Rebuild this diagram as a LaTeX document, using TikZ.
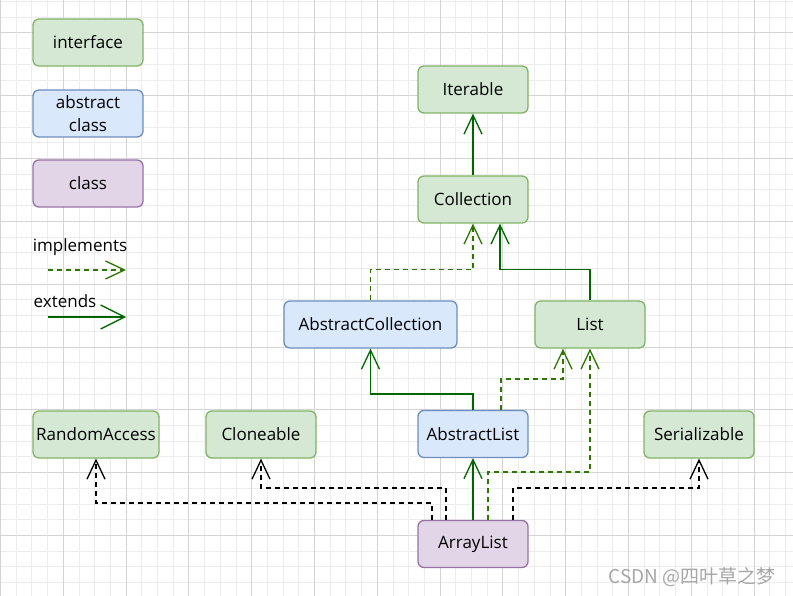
\documentclass[tikz,border=0pt]{standalone}
\usepackage{fontspec}
\setmainfont{Open Sans}
\newfontfamily\cjkfont{Noto Sans CJK SC}
\usetikzlibrary{arrows.meta}
\definecolor{gfill}{HTML}{D5E8D4}\definecolor{gline}{HTML}{82B366}
\definecolor{bfill}{HTML}{DAE8FC}\definecolor{bline}{HTML}{6C8EBF}
\definecolor{pfill}{HTML}{E1D5E7}\definecolor{pline}{HTML}{9673A6}
\definecolor{edgegreen}{HTML}{006600}
\definecolor{dashgreen}{HTML}{2D7600}
\definecolor{gridmajor}{HTML}{D4D4D4}
\definecolor{gridminor}{HTML}{EDEDED}
\tikzset{
  lbl/.style={font=\fontsize{17}{23}\selectfont},
  box/.style={draw, rounded corners=6pt, line width=1.3pt, minimum height=47pt, minimum width=110pt, inner sep=0pt, lbl, align=center},
  iface/.style={box, fill=gfill, draw=gline},
  abst/.style={box, fill=bfill, draw=bline},
  cls/.style={box, fill=pfill, draw=pline},
  opentip/.style={-{Straight Barb[length=19pt,width=18pt,line width=1.3pt]}},
  ext/.style={opentip, draw=edgegreen, line width=1.6pt},
  impl/.style={opentip, draw=dashgreen, line width=1.4pt, dash pattern=on 5pt off 4pt},
  implb/.style={opentip, draw=black, line width=1.3pt, dash pattern=on 5pt off 4pt},
}
\begin{document}
\begin{tikzpicture}[x=1pt,y=-1pt]
\useasboundingbox (0,0) rectangle (793,596);
\fill[white] (0,0) rectangle (793,596);
% grid
\foreach \i in {0,...,50} \draw[gridminor, line width=1pt] ({0.5+\i*15.7},0) -- ({0.5+\i*15.7},596);
\foreach \i in {-2,...,38} \draw[gridminor, line width=1pt] (0,{33+\i*15.7}) -- (793,{33+\i*15.7});
\foreach \i in {0,...,12} \draw[gridmajor, line width=1pt] ({0.5+\i*62.8},0) -- ({0.5+\i*62.8},596);
\foreach \i in {-1,...,9} \draw[gridmajor, line width=1pt] (0,{33+\i*62.8}) -- (793,{33+\i*62.8});

% legend
\node[iface] (lint) at (88,42.5) {interface};
\node[abst] (labs) at (88,113.5) {abstract\\class};
\node[cls] (lcls) at (88,183.5) {class};
\node[lbl] (limpl) at (80,247) {implements};
\coordinate (li1) at (48,270); \coordinate (li2) at (126,270);
\draw[impl] (li1) -- (li2);
\node[lbl] (lext) at (65,301) {extends};
\coordinate (le1) at (48,317); \coordinate (le2) at (126,317);
\draw[ext, -{Straight Barb[length=24pt,width=24pt,line width=1.3pt]}] (le1) -- (le2);

% nodes
\node[iface] (iter) at (473,89.5) {Iterable};
\node[iface] (coll) at (473,199.5) {Collection};
\node[abst, minimum width=173pt] (acoll) at (370.5,324.5) {AbstractCollection};
\node[iface] (list) at (590,324.5) {List};
\node[abst] (alist) at (473,434) {AbstractList};
\node[iface, minimum width=126pt] (rand) at (96,434.5) {RandomAccess};
\node[iface] (clone) at (261,434.5) {Cloneable};
\node[iface] (ser) at (699,434.5) {Serializable};
\node[cls] (arr) at (473,544) {ArrayList};

% edges
\draw[ext] (coll.north) -- (iter.south);
\draw[impl] (acoll.north) -- ++(0,-31) -| (coll.south);
\draw[ext] (list.north) -- ++(0,-31) -| ([xshift=27]coll.south);
\draw[ext] (alist.north) -- ++(0,-16) -| (acoll.south);
\draw[impl] ([xshift=28]alist.north) -- ++(0,-31) -| ([xshift=-27]list.south);
\draw[impl] ([xshift=15]arr.north) -- ++(0,-48) -| (list.south);
\draw[ext] (arr.north) -- (alist.south);
\draw[implb] ([xshift=-41]arr.north) -- ++(0,-17) -| (rand.south);
\draw[implb] ([xshift=-27]arr.north) -- ++(0,-32) -| (clone.south);
\draw[implb] ([xshift=40]arr.north) -- ++(0,-32) -| (ser.south);

% watermark
\node[text=black!35, font=\cjkfont\fontsize{19}{22}\selectfont] (wm) at (692,577) {CSDN @四叶草之梦};
\end{tikzpicture}
\end{document}
